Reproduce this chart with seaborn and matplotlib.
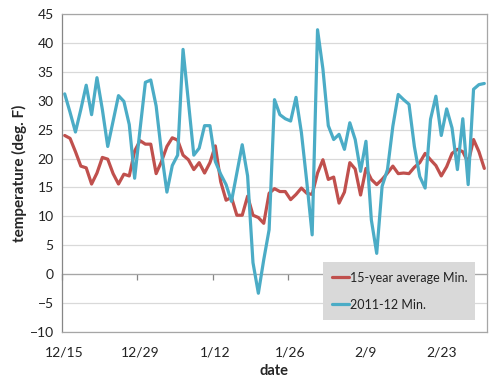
import matplotlib
matplotlib.use("Agg")
import matplotlib.pyplot as plt
import matplotlib.dates as mdates
import seaborn as sns
import pandas as pd

# daily minimum temperatures, 12/15/2011 - 3/2/2012
start_date = "2011-12-15"
avg_min = [24.0, 23.5, 21.2, 18.7, 18.4, 15.6, 17.5, 20.2, 19.9, 17.4,
           15.6, 17.3, 17.0, 21.3, 23.1, 22.5, 22.5, 17.4, 19.5, 22.1,
           23.6, 23.2, 20.6, 19.8, 18.1, 19.3, 17.5, 19.3, 22.2, 16.0,
           12.8, 13.3, 10.2, 10.2, 13.5, 10.2, 9.8, 8.8, 14.0, 14.8,
           14.3, 14.3, 12.9, 13.8, 14.9, 14.0, 13.8, 17.5, 19.8, 16.4,
           16.8, 12.3, 14.2, 19.3, 18.2, 13.7, 18.3, 16.4, 15.5, 16.4,
           17.5, 18.7, 17.4, 17.5, 17.4, 18.5, 19.3, 20.9, 19.8, 18.8,
           17.0, 18.6, 20.9, 21.6, 21.2, 19.3, 23.3, 21.2, 18.3]
season_min = [31.2, 28.0, 24.6, 28.5, 32.7, 27.6, 34.0, 28.5, 22.1, 26.5,
              30.9, 29.9, 25.9, 16.6, 25.0, 33.2, 33.6, 29.1, 21.0, 14.2,
              18.8, 20.6, 38.9, 29.8, 20.6, 21.8, 25.7, 25.7, 19.5, 17.3,
              15.5, 12.6, 17.5, 22.4, 17.0, 2.0, -3.3, 2.5, 7.7, 30.2,
              27.6, 26.9, 26.5, 30.6, 24.5, 16.0, 6.8, 42.3, 35.5, 25.7,
              23.3, 24.2, 21.6, 26.2, 23.3, 17.8, 23.0, 9.4, 3.6, 15.2,
              18.1, 25.6, 31.1, 30.2, 29.4, 22.1, 16.9, 14.9, 26.8, 30.8,
              24.0, 28.6, 25.3, 18.1, 26.9, 15.5, 32.0, 32.8, 33.0]
series_names = ["15-year average Min.", "2011-12 Min."]
colors = ["#c0504d", "#4bacc6"]
y_ticks = list(range(-10, 50, 5))

dates = pd.date_range(start_date, periods=len(avg_min), freq="D")
df = pd.concat([
    pd.DataFrame({"date": dates, "temp": avg_min, "series": series_names[0]}),
    pd.DataFrame({"date": dates, "temp": season_min, "series": series_names[1]}),
])

sns.set_style("white")
plt.rcParams["font.family"] = ["Lato", "DejaVu Sans"]

fig = plt.figure(figsize=(5, 3.82), dpi=100)
ax = fig.add_axes([0.124, 0.131, 0.85, 0.832])

sns.lineplot(data=df, x="date", y="temp", hue="series", palette=colors,
             linewidth=2.3, ax=ax, legend=False,
             solid_joinstyle="round", solid_capstyle="round")

half = pd.Timedelta(hours=12)
ax.set_xlim(dates[0] - half, dates[-1] + half)
ax.set_ylim(-10, 45)
ax.set_yticks(y_ticks)
ax.yaxis.grid(True, color="#d9d9d9", linewidth=0.9)
ax.set_axisbelow(True)

# labels centred on days, every two weeks
ax.set_xticks(dates[::14])
ax.xaxis.set_major_formatter(
    plt.FuncFormatter(lambda v, p: f"{mdates.num2date(v).month}/{mdates.num2date(v).day}"))
ax.tick_params(axis="x", length=0, labelsize=10, pad=10.5, colors="#222222")
ax.tick_params(axis="y", length=4, width=0.8, direction="out",
               labelsize=10, pad=2, colors="#868686", labelcolor="#222222")

for s in ax.spines.values():
    s.set_color("#a6a6a6")
    s.set_linewidth(0.9)
ax.spines["left"].set_color("#868686")

# horizontal axis crosses at 0, tick marks on the two-week boundaries
sec = ax.secondary_xaxis(10 / 55)
sec.set_xticks(list(dates[::14] - half))
sec.tick_params(axis="x", length=4, width=0.9, color="#868686",
                direction="out", labelbottom=False)
sec.spines["bottom"].set_color("#a6a6a6")
sec.spines["bottom"].set_linewidth(0.9)
sec.set_zorder(0.5)

ax.set_xlabel("date", fontsize=10.5, fontweight="bold", labelpad=4)
ax.set_ylabel("temperature (deg. F)", fontsize=11, fontweight="bold", labelpad=2)

handles = [plt.Line2D([], [], color=c, linewidth=2.3) for c in colors]
leg = ax.legend(handles, series_names, loc="lower left",
                bbox_to_anchor=(0.614, 0.038, 0.358, 0.182), mode="expand",
                fontsize=9, handlelength=1.35, handletextpad=0.05,
                labelspacing=1.2, borderpad=0.75, borderaxespad=0,
                fancybox=False, frameon=True, framealpha=1)
leg.get_frame().set_facecolor("#d9d9d9")
leg.get_frame().set_edgecolor("none")
for t in leg.get_texts():
    t.set_color("#222222")

fig.savefig("out.png", dpi=100)
